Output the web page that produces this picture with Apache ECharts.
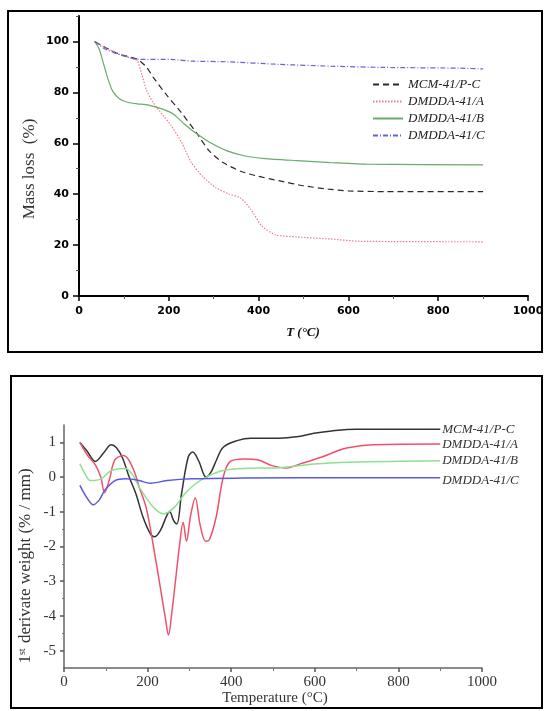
<!DOCTYPE html>
<html><head><meta charset="utf-8">
<script src="https://cdn.jsdelivr.net/npm/echarts@6/dist/echarts.min.js"></script>
<style>html,body{margin:0;padding:0;background:#fff}#c{width:547px;height:711px}</style>
</head><body><div id="c"></div>
<script>
// ---------- data ----------
const sampleNames = ['MCM-41/P-C', 'DMDDA-41/A', 'DMDDA-41/B', 'DMDDA-41/C'];

// TGA (top): [temperature °C, mass %]
const tgaMCM = [[35,100],[60,97.5],[90,95],[130,93],[150,90],[165,86],[195,79],[228,72],[260,64.5],[290,57],[320,52.5],[360,49],[400,47],[445,45.3],[500,43.3],[555,42],[600,41.3],[680,41],[900,41]];
const tgaA = [[35,100],[60,97.5],[90,95],[120,93.2],[130,92.5],[140,87],[150,81],[165,76],[185,71.5],[205,67],[228,60.5],[250,52.5],[275,47],[305,42.5],[335,40],[360,38.5],[383,34],[407,27.5],[438,24],[485,23.2],[560,22.4],[625,21.5],[900,21.3]];
const tgaB = [[35,100],[45,97],[55,91],[65,85],[75,80.5],[90,77.5],[110,76],[130,75.5],[155,75],[185,73.5],[210,71.5],[235,67.5],[260,64],[290,60.5],[330,57],[370,55],[415,54],[485,53.2],[560,52.4],[640,51.8],[900,51.5]];
const tgaC = [[35,100],[55,97.3],[95,94.5],[130,93],[210,92.9],[250,92.3],[330,92],[445,91],[560,90.3],[680,89.8],[850,89.5],[900,89.2]];

// DTG (bottom): [temperature °C, 1st derivative]
const dtgMCM = [[38,1.0],[55,0.75],[75,0.45],[95,0.7],[113,0.93],[125,0.85],[140,0.55],[156,0.0],[172,-0.48],[189,-1.15],[206,-1.62],[216,-1.72],[230,-1.55],[247,-1.08],[253,-1.0],[262,-1.25],[270,-1.35],[281,-0.5],[297,0.57],[308,0.72],[322,0.47],[340,0.0],[352,0.15],[364,0.47],[381,0.86],[414,1.05],[448,1.12],[515,1.12],[556,1.16],[598,1.26],[640,1.33],[698,1.38],[900,1.38]];
const dtgA = [[38,1.0],[55,0.65],[75,0.35],[88,0.0],[97,-0.45],[108,-0.1],[122,0.5],[143,0.62],[164,0.28],[180,-0.29],[197,-0.9],[214,-2.0],[230,-3.15],[243,-4.1],[250,-4.55],[258,-3.9],[268,-2.85],[277,-1.9],[285,-1.3],[293,-1.85],[303,-1.1],[314,-0.6],[326,-1.4],[339,-1.85],[348,-1.8],[364,-1.15],[381,0.0],[398,0.45],[431,0.52],[465,0.49],[498,0.33],[531,0.26],[565,0.38],[615,0.57],[665,0.8],[698,0.88],[740,0.93],[900,0.95]];
const dtgB = [[38,0.38],[50,0.1],[63,-0.1],[89,-0.05],[113,0.19],[147,0.25],[165,0.05],[180,-0.29],[214,-0.87],[239,-1.06],[264,-0.87],[289,-0.48],[314,-0.2],[347,0.04],[381,0.19],[431,0.25],[515,0.27],[598,0.38],[682,0.43],[900,0.47]];
const dtgC = [[38,-0.24],[55,-0.6],[70,-0.8],[85,-0.65],[97,-0.39],[122,-0.1],[147,-0.05],[180,-0.1],[206,-0.18],[247,-0.1],[306,-0.05],[431,-0.03],[682,-0.02],[900,-0.02]];

// tick labels
const tempTicks = [0, 200, 400, 600, 800, 1000];
const massTicks = [0, 20, 40, 60, 80, 100];
const massMinorTicks = [10, 30, 50, 70, 90, 110];
const dtgTicks = [-5, -4, -3, -2, -1, 0, 1];
const dtgMinorTicks = [-4.5, -3.5, -2.5, -1.5, -0.5, 0.5];

// ---------- chart ----------
const chart = echarts.init(document.getElementById('c'), null, {renderer: 'canvas'});
const serif = '"Liberation Serif", "DejaVu Serif", serif';
const plain = v => String(v);

const topColors = ['#2a2a2a', '#f07a8a', '#6aaa6a', '#6565d5'];
const topTypes = [[6,4], [1.5,1.5], 'solid', [5,2,1,2]];
const botColors = ['#333333', '#f0506a', '#8ee08e', '#5a5ae0'];

const tgaData = [tgaMCM, tgaA, tgaB, tgaC];
const dtgData = [dtgMCM, dtgA, dtgB, dtgC];

const series = [];
tgaData.forEach((d, i) => {
  series.push({
    name: sampleNames[i], type: 'line', xAxisIndex: 0, yAxisIndex: 0,
    data: d, symbol: 'none', smooth: 0.2,
    lineStyle: {color: topColors[i], width: 1.2, type: topTypes[i]},
    itemStyle: {color: topColors[i]}
  });
});
dtgData.forEach((d, i) => {
  series.push({
    name: sampleNames[i] + ' DTG', type: 'line', xAxisIndex: 1, yAxisIndex: 2,
    data: d, symbol: 'none', smooth: 0.35,
    lineStyle: {color: botColors[i], width: 1.5},
    itemStyle: {color: botColors[i]},
    endLabel: {
      show: true, distance: 2,
      formatter: () => sampleNames[i],
      fontFamily: serif, fontStyle: 'italic', fontSize: 13, color: '#333',
      offset: i === 3 ? [0, 3] : [0, 0]
    }
  });
});

const topTickLabel = {fontFamily: '"DejaVu Sans", sans-serif', fontWeight: 'bold', fontSize: 11, color: '#000', formatter: plain};
const botTickLabel = {fontFamily: serif, fontSize: 15, color: '#333', formatter: plain};

chart.setOption({
  animation: false,
  backgroundColor: '#fff',
  legend: {
    data: sampleNames, orient: 'vertical', left: 367, top: 73,
    itemWidth: 30, itemHeight: 10, itemGap: 4,
    itemStyle: {opacity: 0},
    textStyle: {fontFamily: serif, fontStyle: 'italic', fontSize: 13, color: '#222'}
  },
  grid: [
    {left: 79, top: 16, width: 449, height: 280},
    {left: 64, top: 425, width: 418, height: 243}
  ],
  xAxis: [
    {gridIndex: 0, type: 'value', min: 0, max: 1000, interval: 200,
     axisLine: {onZero: false, lineStyle: {color: '#000', width: 2}},
     axisTick: {length: 5, lineStyle: {color: '#000', width: 1.5}},
     minorTick: {show: true, splitNumber: 2, length: 3, lineStyle: {color: '#555'}},
     axisLabel: Object.assign({margin: 10, customValues: tempTicks}, topTickLabel),
     splitLine: {show: false}},
    {gridIndex: 1, type: 'value', min: 0, max: 1000, interval: 200,
     axisLine: {onZero: false, lineStyle: {color: '#666', width: 1.5}},
     axisTick: {length: 4, lineStyle: {color: '#555', width: 1.5}},
     minorTick: {show: true, splitNumber: 2, length: 3, lineStyle: {color: '#777'}},
     axisLabel: Object.assign({margin: 7, customValues: tempTicks}, botTickLabel),
     splitLine: {show: false}}
  ],
  yAxis: [
    {gridIndex: 0, type: 'value', position: 'left', min: 0, max: 110,
     axisLine: {show: true, onZero: false, lineStyle: {color: '#000', width: 2}},
     axisTick: {show: true, length: 6, customValues: massTicks, lineStyle: {color: '#000', width: 1.5}},
     axisLabel: Object.assign({margin: 10, customValues: massTicks}, topTickLabel),
     splitLine: {show: false}},
    {gridIndex: 0, type: 'value', position: 'left', min: 0, max: 110,
     axisLine: {show: false, onZero: false},
     axisTick: {show: true, length: 3, customValues: massMinorTicks, lineStyle: {color: '#555'}},
     axisLabel: {show: false}, splitLine: {show: false}},
    {gridIndex: 1, type: 'value', position: 'left', min: -5.5, max: 1.5,
     axisLine: {show: true, onZero: false, lineStyle: {color: '#666', width: 1.5}},
     axisTick: {show: true, length: 4, customValues: dtgTicks, lineStyle: {color: '#555', width: 1.5}},
     axisLabel: Object.assign({margin: 8, customValues: dtgTicks}, botTickLabel),
     splitLine: {show: false}},
    {gridIndex: 1, type: 'value', position: 'left', min: -5.5, max: 1.5,
     axisLine: {show: false, onZero: false},
     axisTick: {show: true, length: 2, customValues: dtgMinorTicks, lineStyle: {color: '#777'}},
     axisLabel: {show: false}, splitLine: {show: false}}
  ],
  graphic: [
    {type: 'rect', shape: {x: 8, y: 11, width: 534, height: 341}, style: {fill: 'none', stroke: '#000', lineWidth: 2}, silent: true},
    {type: 'rect', shape: {x: 11, y: 376, width: 531, height: 332}, style: {fill: 'none', stroke: '#000', lineWidth: 2}, silent: true},
    {type: 'text', x: 30, y: 169, rotation: Math.PI / 2,
     style: {text: 'Mass loss  (%)', font: '17px ' + serif, fill: '#333', align: 'center', verticalAlign: 'middle'}},
    {type: 'text', x: 303, y: 333,
     style: {text: 'T (°C)', font: 'italic bold 13px ' + serif, fill: '#111', align: 'center', verticalAlign: 'middle'}},
    {type: 'text', x: 26, y: 566, rotation: Math.PI / 2,
     style: {text: '{a|1}{s|st}{a| derivate weight (% / mm)}', align: 'center', verticalAlign: 'middle',
       rich: {a: {fontFamily: serif, fontSize: 17, fill: '#333'}, s: {fontFamily: serif, fontSize: 10, fill: '#333', verticalAlign: 'top', padding: [0, 1, 7, 0]}}}},
    {type: 'text', x: 275, y: 698,
     style: {text: 'Temperature (°C)', font: '15px ' + serif, fill: '#333', align: 'center', verticalAlign: 'middle'}}
  ],
  series: series
});
</script>
</body></html>
